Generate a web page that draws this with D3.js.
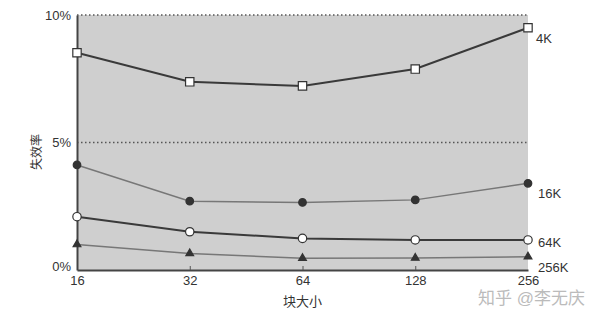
<!DOCTYPE html>
<html>
<head>
<meta charset="utf-8">
<script src="https://cdn.jsdelivr.net/npm/d3@7"></script>
<style>
body{margin:0;background:#fff;}
text{font-family:"Liberation Sans","Noto Sans CJK SC",sans-serif;fill:#333;}
</style>
</head>
<body>
<div class="chart"></div>
<script>
// data
const blockSizes = [16, 32, 64, 128, 256];
const yTicks = [0, 5, 10];
const series4K = [8.52, 7.38, 7.22, 7.88, 9.5];
const series16K = [4.12, 2.7, 2.65, 2.75, 3.4];
const series64K = [2.09, 1.5, 1.24, 1.18, 1.18];
const series256K = [1.0, 0.65, 0.46, 0.47, 0.52];
const seriesNames = ['4K', '16K', '64K', '256K'];

const svg_width = 606, svg_height = 314;
const margin = {top:15, right:78, bottom:44, left:77};
const w = svg_width - margin.left - margin.right;
const h = svg_height - margin.top - margin.bottom;

const svg = d3.select('.chart').append('svg')
  .attr('width', svg_width).attr('height', svg_height);
const g = svg.append('g').attr('transform', `translate(${margin.left},${margin.top})`);

const x = d3.scaleLog().base(2).domain([16, 256]).range([0, w]);
const y = d3.scaleLinear().domain([0, 10]).range([h, 0]);

// gray plot background
g.append('rect').attr('width', w).attr('height', h).style('fill', '#cfcfcf');

// dotted reference lines
g.selectAll('.grid').data(yTicks.filter(d => d > 0)).enter()
  .append('line').attr('class', 'grid')
  .attr('x1', 0).attr('x2', w)
  .attr('y1', d => y(d)).attr('y2', d => y(d))
  .style('stroke', '#555').style('stroke-width', 1.3).style('stroke-dasharray', '1.5,2.5');

// axes
const xAxis = d3.axisBottom(x).tickValues(blockSizes).tickFormat(d3.format('d'))
  .tickSizeInner(-4).tickSizeOuter(0).tickPadding(6);
const yAxis = d3.axisLeft(y).tickValues(yTicks).tickFormat(d => d + '%').tickSize(0).tickPadding(6);
const xg = g.append('g').attr('transform', `translate(0,${h})`).call(xAxis);
const yg = g.append('g').call(yAxis);
[xg, yg].forEach(a => {
  a.select('.domain').style('stroke', '#444').style('stroke-width', 2);
  a.selectAll('line').style('stroke', '#555');
  a.selectAll('text').style('font-size', '13px').style('fill', '#333');
});
yg.selectAll('text').attr('dy', d => d == 0 ? '0.05em' : '0.32em');
xg.selectAll('.tick').filter(d => d == 16 || d == 256).select('line').remove();

// series
const allSeries = [series4K, series16K, series64K, series256K];
const lineColor = ['#3a3a3a', '#777', '#3a3a3a', '#777'];
const lineWidth = [2, 1.5, 2, 1.5];
const line = d3.line().x((d, i) => x(blockSizes[i])).y(d => y(d));

allSeries.forEach((s, k) => {
  g.append('path').datum(s).attr('d', line)
    .style('fill', 'none').style('stroke', lineColor[k]).style('stroke-width', lineWidth[k]);
});

// markers
const sym = [d3.symbolSquare, d3.symbolCircle, d3.symbolCircle, d3.symbolTriangle];
const symSize = [70, 45, 55, 26];
const symFill = ['#fff', '#333', '#fff', '#333'];
allSeries.forEach((s, k) => {
  g.selectAll('.m' + k).data(s).enter().append('path')
    .attr('class', 'm' + k)
    .attr('d', d3.symbol().type(sym[k]).size(symSize[k]))
    .attr('transform', (d, i) => `translate(${x(blockSizes[i])},${y(d)})`)
    .style('fill', symFill[k]).style('stroke', '#333').style('stroke-width', 1.2);
});

// series labels
const labelY = [9.1, 3.0, 1.1, 0.1];
g.selectAll('.slabel').data(seriesNames).enter().append('text')
  .attr('class', 'slabel')
  .attr('x', (d, i) => i == 0 ? w + 8 : w + 10)
  .attr('y', (d, i) => y(labelY[i]))
  .attr('dy', '0.35em')
  .style('font-size', '13px').text(d => d);

// axis titles
svg.append('text').attr('transform', 'translate(37,152) rotate(-90)')
  .attr('text-anchor', 'middle').attr('dy', '0.35em')
  .style('font-size', '12px').style('fill', '#333').text('失效率');
svg.append('text').attr('x', margin.left + x(64)).attr('y', 306)
  .attr('text-anchor', 'middle').style('font-size', '13px').text('块大小');

// watermark
svg.append('text').attr('x', 478).attr('y', 304)
  .style('font-size', '17px').style('fill', '#bbb').text('知乎 @李无庆');
</script>
</body>
</html>
